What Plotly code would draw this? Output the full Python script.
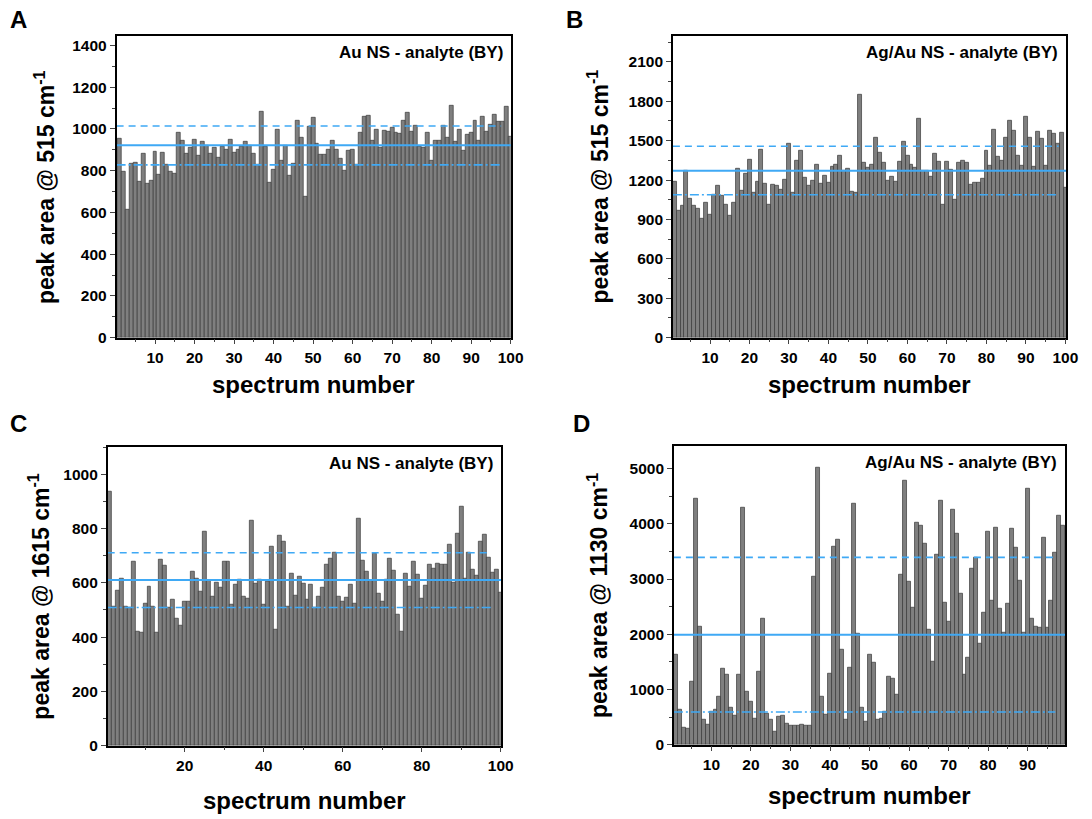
import plotly.graph_objects as go

# ---------------- data ----------------
spectrum_A = list(range(1, 101))
area_A = [954, 796, 611, 834, 837, 747, 884, 737, 753, 892, 780, 888, 828, 796, 785, 983, 943, 881, 911, 948,
          873, 937, 919, 880, 911, 861, 916, 903, 948, 888, 900, 913, 941, 919, 880, 828, 1081, 916, 744, 805,
          997, 850, 919, 775, 835, 1041, 957, 677, 1009, 1052, 930, 878, 875, 899, 943, 899, 856, 801, 894, 902,
          828, 981, 1057, 1062, 943, 997, 910, 992, 986, 1006, 983, 978, 1038, 1078, 986, 1014, 916, 910, 984, 850,
          943, 945, 1017, 960, 1112, 938, 997, 898, 973, 980, 1038, 946, 1060, 986, 1020, 1070, 1035, 1035, 1105, 965]
stats_A = [922, 1014, 828]  # mean, upper, lower

spectrum_B = list(range(1, 101))
area_B = [1190, 968, 1003, 1270, 1061, 1003, 985, 910, 1028, 940, 1091, 1161, 1078, 1010, 933, 1026, 1287, 1121, 1249, 1352,
          1104, 1187, 1430, 1171, 1016, 1166, 1156, 1129, 1204, 1476, 1106, 1347, 1425, 1219, 1156, 1199, 1315, 1171, 1234, 1181,
          1302, 1315, 1390, 1270, 1287, 1111, 1106, 1853, 1330, 1292, 1317, 1526, 1408, 1330, 1199, 1229, 1192, 1337, 1496, 1385,
          1320, 1292, 1669, 1270, 1270, 1229, 1400, 1342, 1010, 1337, 1280, 1048, 1332, 1347, 1330, 1166, 1184, 1182, 1212, 1423,
          1312, 1581, 1380, 1347, 1526, 1652, 1576, 1388, 1307, 1682, 1526, 1305, 1569, 1513, 1307, 1576, 1556, 1476, 1561, 1141]
stats_B = [1272, 1458, 1088]

spectrum_C = list(range(1, 101))
area_C = [936, 514, 571, 616, 514, 510, 677, 419, 416, 525, 587, 512, 416, 685, 665, 510, 537, 467, 441, 531,
          532, 643, 616, 567, 789, 608, 550, 601, 582, 677, 680, 518, 594, 612, 548, 543, 831, 598, 611, 520,
          606, 734, 429, 775, 751, 513, 634, 552, 623, 598, 538, 593, 508, 549, 581, 666, 690, 711, 549, 531,
          544, 593, 522, 835, 683, 640, 608, 708, 559, 531, 611, 689, 646, 484, 419, 634, 587, 680, 629, 543,
          589, 668, 654, 672, 668, 668, 741, 600, 783, 880, 617, 710, 650, 628, 751, 778, 693, 638, 648, 565]
stats_C = [610, 711, 509]

spectrum_D = list(range(1, 100))
area_D = [1625, 627, 305, 293, 1147, 4450, 2145, 448, 364, 591, 639, 866, 1380, 1266, 663, 520, 1278, 4301, 968, 777,
          478, 1332, 2276, 567, 448, 245, 514, 532, 382, 352, 340, 340, 358, 352, 352, 3041, 5018, 866, 550, 1284,
          3596, 3710, 1714, 448, 1398, 4373, 2013, 663, 412, 1625, 1487, 460, 478, 591, 1237, 1201, 902, 3076, 4791, 2951,
          2479, 4020, 3961, 3644, 2091, 1511, 3441, 4415, 2581, 2234, 4259, 3823, 2742, 1260, 1571, 3196, 3387, 1822, 2384, 3865,
          2610, 3925, 2467, 2037, 2563, 3907, 3566, 2963, 2037, 4642, 2276, 2145, 2115, 3757, 2115, 2610, 3477, 4146, 3961]
stats_D = [1989, 3393, 591]

labels = ["Au NS - analyte (BY)", "Ag/Au NS - analyte (BY)", "Au NS - analyte (BY)", "Ag/Au NS - analyte (BY)"]
ytitles = ["peak area @ 515 cm<sup>-1</sup>", "peak area @ 515 cm<sup>-1</sup>",
           "peak area @ 1615 cm<sup>-1</sup>", "peak area @ 1130 cm<sup>-1</sup>"]
letters = ["A", "B", "C", "D"]

# ---------------- layout geometry (pixels) ----------------
W, H = 1092, 819
FONT = "Liberation Sans, Arial, sans-serif"
BLUE = "#3fa9f5"

panels = [
    dict(x=spectrum_A, y=area_A, s=stats_A, px=(118, 517), py=(36, 341), xr=[0.25, 100.05], yr=[0, 1447],
         xd=10, xm=5, yd=200, ym=100, dash_end=97.6, xt_off=47, ytx=45, let=(19, 20)),
    dict(x=spectrum_B, y=area_B, s=stats_B, px=(681, 1079), py=(36, 341), xr=[0.6, 100.2], yr=[0, 2300],
         xd=10, xm=5, yd=300, ym=150, dash_end=98.3, xt_off=47, ytx=605, let=(581, 20)),
    dict(x=spectrum_C, y=area_C, s=stats_C, px=(109, 507), py=(451, 753), xr=[0.5, 100.05], yr=[0, 1102],
         xd=20, xm=10, yd=200, ym=100, dash_end=97.5, xt_off=55, ytx=40, let=(19, 428)),
    dict(x=spectrum_D, y=area_D, s=stats_D, px=(682, 1078), py=(450, 752), xr=[0.5, 99.5], yr=[0, 5417],
         xd=10, xm=5, yd=1000, ym=500, dash_end=97.0, xt_off=51, ytx=605, let=(588, 428)),
]

fig = go.Figure()
annotations = []
layout = {}
for i, p in enumerate(panels):
    n = "" if i == 0 else str(i + 1)
    xa, ya = "x" + n, "y" + n
    fig.add_trace(go.Bar(x=p["x"], y=p["y"], xaxis=xa, yaxis=ya, width=1.0,
                         marker=dict(color="#7f7f7f", line=dict(color="#3a3a3a", width=0.7)),
                         showlegend=False))
    m, up, lo = p["s"]
    x0, x1 = p["xr"]
    fig.add_trace(go.Scatter(x=[x0, x1], y=[m, m], xaxis=xa, yaxis=ya, mode="lines",
                             line=dict(color=BLUE, width=2), showlegend=False))
    fig.add_trace(go.Scatter(x=[x0, p["dash_end"]], y=[up, up], xaxis=xa, yaxis=ya, mode="lines",
                             line=dict(color=BLUE, width=1.6, dash="7px,5px"), showlegend=False))
    fig.add_trace(go.Scatter(x=[x0, p["dash_end"]], y=[lo, lo], xaxis=xa, yaxis=ya, mode="lines",
                             line=dict(color=BLUE, width=1.6, dash="9px,3px,2px,3px"), showlegend=False))
    (l, r), (t, b) = p["px"], p["py"]
    layout["xaxis" + n] = dict(domain=[l / W, r / W], anchor=ya, range=p["xr"], tick0=0, dtick=p["xd"],
                               ticks="outside", ticklen=5, tickwidth=1.2, showline=True, linecolor="black",
                               linewidth=1.5, mirror=True, showgrid=False, zeroline=False,
                               tickfont=dict(family=FONT, size=15.5, color="black", weight="bold"),
                               minor=dict(dtick=p["xm"], ticks="outside", ticklen=3, tickwidth=1, showgrid=False))
    layout["yaxis" + n] = dict(domain=[1 - b / H, 1 - t / H], anchor=xa, range=p["yr"], tick0=0, dtick=p["yd"],
                               ticks="outside", ticklen=5, tickwidth=1.2, showline=True, linecolor="black",
                               linewidth=1.5, mirror=True, showgrid=False, zeroline=False,
                               tickfont=dict(family=FONT, size=15.5, color="black", weight="bold"),
                               minor=dict(dtick=p["ym"], ticks="outside", ticklen=3, tickwidth=1, showgrid=False))
    # inner label
    annotations.append(dict(text="<b>" + labels[i] + "</b>", xref="paper", yref="paper",
                            x=(r - 6) / W, y=1 - (t + 17) / H, xanchor="right", yanchor="middle",
                            showarrow=False, font=dict(family=FONT, size=17, color="black")))
    # x title
    annotations.append(dict(text="<b>spectrum number</b>", xref="paper", yref="paper",
                            x=(l + r) / 2 / W, y=1 - (b + p["xt_off"]) / H, xanchor="center", yanchor="middle",
                            showarrow=False, font=dict(family=FONT, size=24, color="black")))
    # y title
    annotations.append(dict(text="<b>" + ytitles[i] + "</b>", xref="paper", yref="paper",
                            x=p["ytx"] / W, y=1 - (t + b) / 2 / H, xanchor="center", yanchor="middle",
                            textangle=-90, showarrow=False, font=dict(family=FONT, size=23, color="black")))
    # panel letter
    annotations.append(dict(text="<b>" + letters[i] + "</b>", xref="paper", yref="paper",
                            x=p["let"][0] / W, y=1 - p["let"][1] / H,
                            xanchor="center", yanchor="middle",
                            showarrow=False, font=dict(family=FONT, size=24, color="black")))

fig.update_layout(width=W, height=H, margin=dict(l=0, r=0, t=0, b=0), plot_bgcolor="white",
                  paper_bgcolor="white", bargap=0, annotations=annotations, **layout)

fig.write_html("out.html")
